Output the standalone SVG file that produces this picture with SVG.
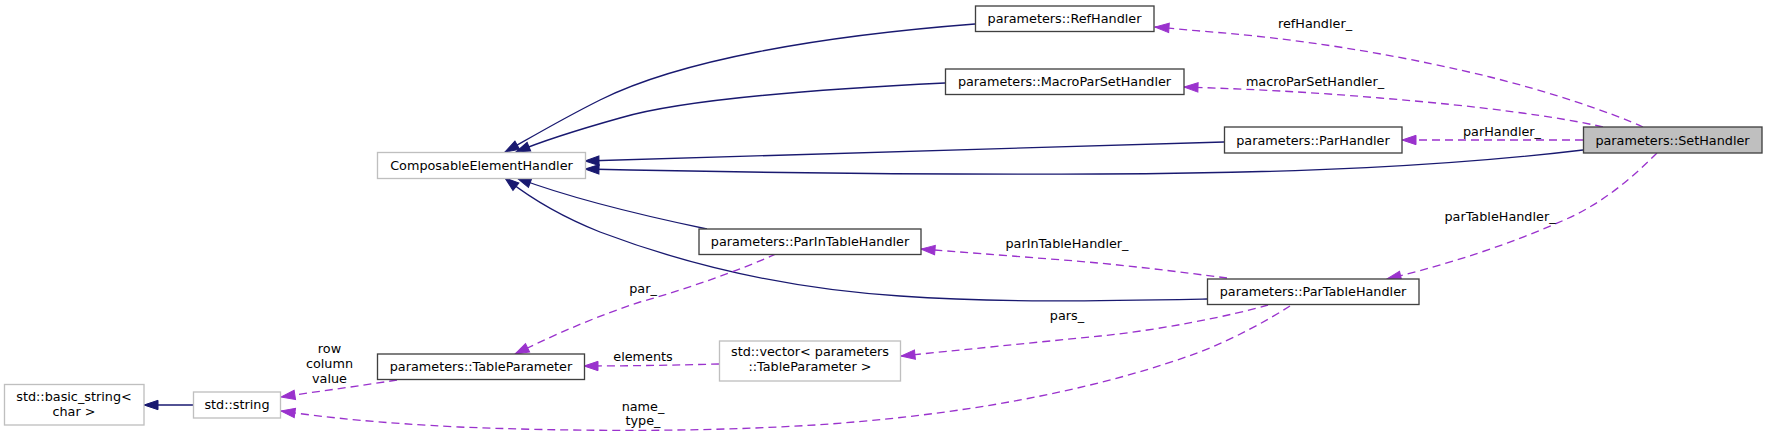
<svg xmlns="http://www.w3.org/2000/svg" width="1767" height="436" viewBox="0 0 1767 436">
<style>
text{font-family:"DejaVu Sans","Liberation Sans",sans-serif;font-size:12.8px;fill:#000;text-anchor:middle}
.n{fill:#fff;stroke:#404040;stroke-width:1.33}
.g{fill:#fff;stroke:#bfbfbf;stroke-width:1.33}
.cur{fill:#bfbfbf;stroke:#404040;stroke-width:1.33}
.inh{fill:none;stroke:#191970;stroke-width:1.33;marker-end:url(#ab)}
.use{fill:none;stroke:#9a32cd;stroke-width:1.33;stroke-dasharray:8,5;marker-end:url(#ap)}
</style>
<defs>
<marker id="ab" markerUnits="userSpaceOnUse" markerWidth="16" markerHeight="12" refX="14" refY="5" orient="auto" overflow="visible">
<path d="M0,0.3 L14,5 L0,9.7 z" fill="#191970" stroke="#191970" stroke-width="1"/>
</marker>
<marker id="ap" markerUnits="userSpaceOnUse" markerWidth="16" markerHeight="12" refX="14" refY="5" orient="auto" overflow="visible">
<path d="M0,0.3 L14,5 L0,9.7 z" fill="#9a32cd" stroke="#9a32cd" stroke-width="1"/>
</marker>
</defs>
<rect width="1767" height="436" fill="#fff"/>
<g id="connectors">
<path class="inh" d="M975,24 C820,36 680,60 600,100 C560,120 530,138 505,152"/>
<path class="inh" d="M945,83 C800,90 680,100 620,118 C570,132 540,142 516,152"/>
<path class="inh" d="M1224,142 C1000,148 780,157 585,161"/>
<path class="inh" d="M1583,150 C1450,166 1300,173 1100,174 C900,175 720,172 585,169"/>
<path class="inh" d="M707,229 C640,215 570,198 517,178"/>
<path class="inh" d="M1207,299 C1100,301 1000,303 900,296 C790,289 690,266 600,232 C565,218 530,198 505,178"/>
<path class="inh" d="M193,405 L144,405"/>
<path class="use" d="M1643,127 C1610,112 1550,92 1490,77 C1420,60 1320,40 1200,31 C1185,30 1170,28 1155,27"/>
<path class="use" d="M1603,127 C1560,117 1480,106 1380,98 C1310,92 1250,89 1184,87"/>
<path class="use" d="M1583,140 L1402,140"/>
<path class="use" d="M1657,153 C1630,180 1600,205 1562,221 C1510,244 1450,264 1387,279"/>
<path class="use" d="M1227,278 C1180,272 1120,264 1050,259 C1000,255 960,252 921,249"/>
<path class="use" d="M1268,305 C1230,316 1160,330 1100,336 C1030,343 960,350 901,356"/>
<path class="use" d="M1290,306 C1265,322 1235,338 1200,352 C1110,385 990,412 830,424 C700,433 560,431 459,427 C380,423 330,418 281,411"/>
<path class="use" d="M397,380 C360,386 320,391 281,397"/>
<path class="use" d="M719,364 C680,365 630,366 584,366"/>
<path class="use" d="M776,254 C740,270 690,288 640,302 C600,315 560,332 515,354"/>
<text x="1315" y="28">refHandler_</text>
<text x="1315" y="86">macroParSetHandler_</text>
<text x="1502" y="136">parHandler_</text>
<text x="1500" y="221">parTableHandler_</text>
<text x="1067" y="248">parInTableHandler_</text>
<text x="1067" y="320">pars_</text>
<text x="643" y="293">par_</text>
<text x="643" y="361">elements</text>
<text x="643" y="411">name_</text>
<text x="643" y="425">type_</text>
<text x="329.5" y="353">row</text>
<text x="329.5" y="368">column</text>
<text x="329.5" y="383">value</text>
</g>
<g id="node-ComposableElementHandler"><rect class="g" x="377.5" y="152.5" width="208" height="26"/><text x="481.5" y="169.5">ComposableElementHandler</text></g>
<g id="node-RefHandler"><rect class="n" x="975.5" y="6" width="178.5" height="25.5"/><text x="1064.5" y="23">parameters::RefHandler</text></g>
<g id="node-MacroParSetHandler"><rect class="n" x="945.5" y="69" width="238.5" height="25.5"/><text x="1064.5" y="86">parameters::MacroParSetHandler</text></g>
<g id="node-ParHandler"><rect class="n" x="1224.5" y="127" width="177.5" height="26"/><text x="1313" y="144.5">parameters::ParHandler</text></g>
<g id="node-SetHandler"><rect class="cur" x="1583.5" y="127" width="178.5" height="26"/><text x="1672.5" y="144.5">parameters::SetHandler</text></g>
<g id="node-ParInTableHandler"><rect class="n" x="699" y="229" width="222" height="25.5"/><text x="810" y="246">parameters::ParInTableHandler</text></g>
<g id="node-ParTableHandler"><rect class="n" x="1207.5" y="279" width="211.5" height="25.5"/><text x="1313" y="296">parameters::ParTableHandler</text></g>
<g id="node-TableParameter"><rect class="n" x="377.5" y="354" width="207" height="25.5"/><text x="481" y="371">parameters::TableParameter</text></g>
<g id="node-vector"><rect class="g" x="719.5" y="341" width="181" height="40"/><text x="810" y="356">std::vector&lt; parameters</text><text x="810" y="371">::TableParameter &gt;</text></g>
<g id="node-string"><rect class="g" x="193.5" y="392" width="87" height="26"/><text x="237" y="409">std::string</text></g>
<g id="node-basic_string"><rect class="g" x="4.5" y="384.5" width="139.5" height="40.5"/><text x="74" y="401">std::basic_string&lt;</text><text x="74" y="416">char &gt;</text></g>
</svg>
